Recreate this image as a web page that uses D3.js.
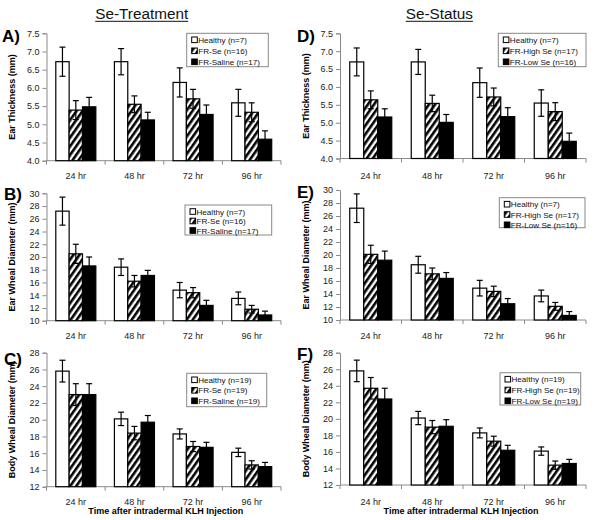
<!DOCTYPE html>
<html><head><meta charset="utf-8">
<script src="https://cdn.jsdelivr.net/npm/d3@7"></script>
<style>
body{margin:0;background:#fff;}
svg{display:block;font-family:"Liberation Sans",Arial,sans-serif;}
</style></head>
<body><svg id="c" width="600" height="520"></svg>
<script>
// ---------- DATA ----------
const timepoints = ["24 hr","48 hr","72 hr","96 hr"];
const treatLegend = ["Healthy (n=7)","FR-Se (n=16)","FR-Saline (n=17)"];
const statusLegend = ["Healthy (n=7)","FR-High Se (n=17)","FR-Low Se (n=16)"];
const treatLegendBody = ["Healthy (n=19)","FR-Se (n=19)","FR-Saline (n=19)"];
const statusLegendBody = ["Healthy (n=19)","FR-High Se (n=19)","FR-Low Se (n=19)"];

const earThickTicks = [4.0,4.5,5.0,5.5,6.0,6.5,7.0,7.5];
const earWhealTicks = [10,12,14,16,18,20,22,24,26,28,30];
const bodyWhealTicks = [12,14,16,18,20,22,24,26,28];

// A) Se-Treatment, ear thickness
const aHealthy = [6.72,6.72,6.15,5.59], aHealthyErr = [0.40,0.36,0.40,0.37];
const aFRSe    = [5.39,5.55,5.70,5.33], aFRSeErr    = [0.26,0.23,0.26,0.26];
const aSaline  = [5.48,5.12,5.27,4.59], aSalineErr  = [0.26,0.21,0.26,0.23];
// D) Se-Status, ear thickness
const dHealthy = [6.70,6.70,6.12,5.55], dHealthyErr = [0.39,0.35,0.41,0.37];
const dHighSe  = [5.64,5.54,5.72,5.31], dHighSeErr  = [0.25,0.23,0.25,0.25];
const dLowSe   = [5.16,5.01,5.17,4.48], dLowSeErr   = [0.23,0.22,0.25,0.23];
// B) Se-Treatment, ear wheal diameter
const bHealthy = [27.2,18.4,14.8,13.5], bHealthyErr = [2.2,1.3,1.2,1.0];
const bFRSe    = [20.5,16.2,14.4,11.8], bFRSeErr    = [1.5,0.9,0.8,0.6];
const bSaline  = [18.6,17.1,12.4,10.9], bSalineErr  = [1.4,0.8,0.8,0.6];
// E) Se-Status, ear wheal diameter
const eHealthy = [27.2,18.5,14.9,13.7], eHealthyErr = [2.2,1.3,1.2,0.9];
const eHighSe  = [20.1,17.1,14.4,12.1], eHighSeErr  = [1.4,0.9,0.8,0.6];
const eLowSe   = [19.2,16.4,12.5,10.7], eLowSeErr   = [1.4,0.9,0.8,0.6];
// C) Se-Treatment, body wheal diameter
const cHealthy = [25.8,20.1,18.3,16.1], cHealthyErr = [1.3,0.8,0.6,0.5];
const cFRSe    = [23.0,18.4,16.8,14.6], cFRSeErr    = [1.3,0.8,0.6,0.5];
const cSaline  = [23.0,19.7,16.7,14.4], cSalineErr  = [1.3,0.8,0.6,0.5];
// F) Se-Status, body wheal diameter
const fHealthy = [25.8,20.1,18.3,16.1], fHealthyErr = [1.3,0.8,0.6,0.5];
const fHighSe  = [23.7,19.0,17.3,14.4], fHighSeErr  = [1.3,0.8,0.6,0.5];
const fLowSe   = [22.4,19.1,16.2,14.6], fLowSeErr   = [1.3,0.8,0.6,0.5];

// ---------- DRAW ----------
const svg = d3.select("#c");
const defs = svg.append("defs");
const pat = defs.append("pattern").attr("id","hatch").attr("patternUnits","userSpaceOnUse")
  .attr("width",5).attr("height",5).attr("patternTransform","rotate(35)");
pat.append("rect").attr("width",5).attr("height",5).attr("fill","#fff");
pat.append("rect").attr("width",2.6).attr("height",5).attr("fill","#000");
const fills = ["#fff","url(#hatch)","#000"];
const axisColor = "#8a8a8a";

function panel(cfg){
  const g = svg.append("g");
  const x = d3.scaleBand().domain(timepoints).range([cfg.x0,cfg.x1]).paddingInner(0.317).paddingOuter(0.1585);
  const xs = d3.scaleBand().domain([0,1,2]).range([0,x.bandwidth()]);
  const y = d3.scaleLinear().domain(cfg.domain).range([cfg.yBot,cfg.yTop]);

  // y axis
  const ya = g.append("g").attr("transform",`translate(${cfg.x0},0)`)
    .call(d3.axisLeft(y).tickValues(cfg.ticks).tickSize(4).tickPadding(3).tickFormat(cfg.fmt));
  ya.select(".domain").attr("stroke",axisColor);
  ya.selectAll(".tick line").attr("stroke",axisColor);
  ya.selectAll(".tick text").attr("font-size",9).attr("fill","#222").attr("font-family","Liberation Sans, Arial, sans-serif");

  // x axis line + boundary ticks
  g.append("line").attr("x1",cfg.x0).attr("x2",cfg.x1).attr("y1",cfg.yBot).attr("y2",cfg.yBot).attr("stroke",axisColor);
  const step = x.step();
  [0,1,2,3,4].forEach(i=>{
    const xx = cfg.x0 + i*step;
    g.append("line").attr("x1",xx).attr("x2",xx).attr("y1",cfg.yBot).attr("y2",cfg.yBot+4).attr("stroke",axisColor);
  });
  g.selectAll(".xl").data(timepoints).enter().append("text")
    .attr("x",d=>x(d)+x.bandwidth()/2).attr("y",cfg.xlabelY).attr("text-anchor","middle")
    .attr("font-size",9).attr("fill","#222").text(d=>d);

  // bars
  cfg.series.forEach((s,si)=>{
    g.selectAll(null).data(s.mean).enter().append("rect")
      .attr("x",(d,i)=>x(timepoints[i])+xs(si)).attr("width",xs.bandwidth())
      .attr("y",d=>y(d)).attr("height",d=>cfg.yBot-y(d))
      .attr("fill",fills[si]).attr("stroke","#000").attr("stroke-width",1.2);
  });
  // error bars
  cfg.series.forEach((s,si)=>{
    s.mean.forEach((m,i)=>{
      const cx = x(timepoints[i])+xs(si)+xs.bandwidth()/2;
      const e = s.err[i];
      g.append("line").attr("x1",cx).attr("x2",cx).attr("y1",y(m+e)).attr("y2",y(m-e)).attr("stroke","#000").attr("stroke-width",1.2);
      [m+e,m-e].forEach(v=>g.append("line").attr("x1",cx-3).attr("x2",cx+3).attr("y1",y(v)).attr("y2",y(v)).attr("stroke","#000").attr("stroke-width",1.2));
    });
  });

  // legend
  const L = cfg.legend;
  g.append("rect").attr("x",L.x).attr("y",L.y).attr("width",L.w).attr("height",L.h)
    .attr("fill","#fff").attr("stroke","#888").attr("stroke-width",1);
  cfg.names.forEach((n,i)=>{
    const ly = L.y + 6.5 + i*L.dy;
    g.append("rect").attr("x",L.x+5).attr("y",ly-2.8).attr("width",5.6).attr("height",5.6)
      .attr("fill",fills[i]).attr("stroke","#000").attr("stroke-width",1);
    g.append("text").attr("x",L.x+11.5).attr("y",ly+3).attr("font-size",8.1).attr("fill","#111").text(n);
  });

  // panel label
  g.append("text").attr("x",cfg.lx).attr("y",cfg.ly).attr("font-size",17).attr("font-weight","bold").text(cfg.label);
  // y title
  const my = (cfg.yTop+cfg.yBot)/2;
  g.append("text").attr("transform",`translate(${cfg.tx},${my}) rotate(-90)`).attr("text-anchor","middle")
    .attr("font-size",9).attr("font-weight","bold").text(cfg.ytitle);
  if(cfg.xtitle){
    g.append("text").attr("x",(cfg.x0+cfg.x1)/2 + cfg.xtOff).attr("y",cfg.xlabelY+9).attr("text-anchor","middle")
      .attr("font-size",9).attr("font-weight","bold").text(cfg.xtitle);
  }
}

const f1 = d3.format(".1f"), f0 = d3.format("d");
const xtitle = "Time after intradermal KLH Injection";

panel({x0:46.5,x1:281,yTop:33.3,yBot:160.7,domain:[4.0,7.5],ticks:earThickTicks,fmt:f1,xlabelY:178.5,
  series:[{mean:aHealthy,err:aHealthyErr},{mean:aFRSe,err:aFRSeErr},{mean:aSaline,err:aSalineErr}],
  names:treatLegend,legend:{x:186.7,y:33.3,w:81.6,h:33.4,dy:11},label:"A)",lx:2,ly:42,ytitle:"Ear Thickness (mm)",tx:15});
panel({x0:340,x1:586,yTop:33.3,yBot:158.5,domain:[4.0,7.5],ticks:earThickTicks,fmt:f1,xlabelY:178.5,
  series:[{mean:dHealthy,err:dHealthyErr},{mean:dHighSe,err:dHighSeErr},{mean:dLowSe,err:dLowSeErr}],
  names:statusLegend,legend:{x:498.3,y:33.3,w:87.7,h:33.4,dy:11},label:"D)",lx:297,ly:42,ytitle:"Ear Thickness (mm)",tx:309});
panel({x0:46.5,x1:281,yTop:193.3,yBot:320.7,domain:[10,30],ticks:earWhealTicks,fmt:f0,xlabelY:338.5,
  series:[{mean:bHealthy,err:bHealthyErr},{mean:bFRSe,err:bFRSeErr},{mean:bSaline,err:bSalineErr}],
  names:treatLegend,legend:{x:185,y:205,w:86.7,h:30,dy:9.5},label:"B)",lx:4,ly:200,ytitle:"Ear Wheal Diameter (mm)",tx:15});
panel({x0:340,x1:586,yTop:190,yBot:320,domain:[10,30],ticks:earWhealTicks,fmt:f0,xlabelY:338.5,
  series:[{mean:eHealthy,err:eHealthyErr},{mean:eHighSe,err:eHighSeErr},{mean:eLowSe,err:eLowSeErr}],
  names:statusLegend,legend:{x:499.3,y:197.7,w:85.7,h:30,dy:10.3},label:"E)",lx:297,ly:198,ytitle:"Ear Wheal Diameter (mm)",tx:309});
panel({x0:46.5,x1:281,yTop:352.7,yBot:486.7,domain:[12,28],ticks:bodyWhealTicks,fmt:f0,xlabelY:505,
  series:[{mean:cHealthy,err:cHealthyErr},{mean:cFRSe,err:cFRSeErr},{mean:cSaline,err:cSalineErr}],
  names:treatLegendBody,legend:{x:186.7,y:373.3,w:80,h:33.4,dy:10.5},label:"C)",lx:4,ly:365,ytitle:"Body Wheal Diameter (mm)",tx:15,
  xtitle:xtitle,xtOff:2});
panel({x0:340,x1:586,yTop:352.7,yBot:485,domain:[12,28],ticks:bodyWhealTicks,fmt:f0,xlabelY:505,
  series:[{mean:fHealthy,err:fHealthyErr},{mean:fHighSe,err:fHighSeErr},{mean:fLowSe,err:fLowSeErr}],
  names:statusLegendBody,legend:{x:500,y:372.7,w:80.7,h:32.3,dy:10.8},label:"F)",lx:297,ly:360,ytitle:"Body Wheal Diameter (mm)",tx:309,
  xtitle:xtitle,xtOff:-2});

// titles
[["Se-Treatment",141.7],["Se-Status",439.3]].forEach(([t,cx])=>{
  const tx = svg.append("text").attr("x",cx).attr("y",19).attr("text-anchor","middle").attr("font-size",15.3).attr("fill","#111").text(t);
  const w = tx.node().getComputedTextLength();
  svg.append("line").attr("x1",cx-w/2).attr("x2",cx+w/2).attr("y1",21.3).attr("y2",21.3).attr("stroke","#111").attr("stroke-width",1);
});
</script></body></html>
